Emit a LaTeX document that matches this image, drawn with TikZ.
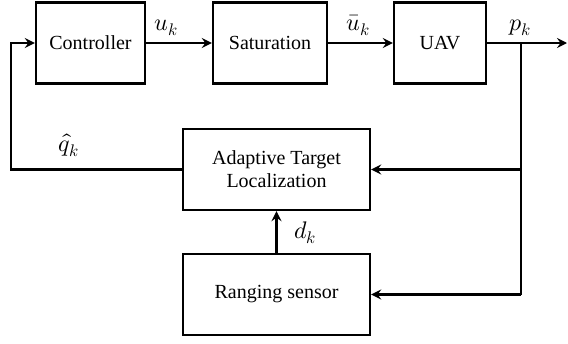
\documentclass[tikz,border=0pt]{standalone}
\usepackage{fontspec}
\usepackage{unicode-math}
\setmainfont{Liberation Serif}
\setmathfont{Latin Modern Math}
\usetikzlibrary{arrows.meta}
\begin{document}
\begin{tikzpicture}[x=1pt,y=-1pt,
  blk/.style={draw,line width=2.4pt,minimum height=81pt,inner sep=0pt,align=center,
    font=\fontsize{20}{23}\selectfont},
  conn/.style={line width=2.4pt},
  arr/.style={conn,-{Stealth[length=10pt,width=10pt,inset=3.5pt]}},
  lbl/.style={font=\fontsize{24}{28}\selectfont,inner sep=0pt,anchor=base}]
\useasboundingbox (0,0) rectangle (568,343);
\node[blk,minimum width=109pt] (ctrl) at (90.5,43) {Controller};
\node[blk,minimum width=114pt] (sat) at (270,43) {Saturation};
\node[blk,minimum width=92pt] (uav) at (440,43) {UAV};
\node[blk,minimum width=187pt] (atl) at (276.5,169.5) {Adaptive Target\\Localization};
\node[blk,minimum width=187pt] (rng) at (276.5,294.5) {Ranging sensor};
\coordinate (out) at (567,43);
\coordinate (br) at (521,43);
\coordinate (brA) at (521,169.5);
\coordinate (brR) at (521,294.5);
\coordinate (fb) at (11,169.5);
\draw[arr] (ctrl.east) -- (sat.west);
\draw[arr] (sat.east) -- (uav.west);
\draw[arr] (uav.east) -- (out);
\draw[conn] (br) -- (brR);
\draw[arr] (brA) -- (atl.east);
\draw[arr] (brR) -- (rng.east);
\draw[arr] (atl.west) -- (fb) |- (ctrl.west);
\draw[arr] (rng.north) -- (atl.south);
\node[lbl] (lu) at (166,30) {$u_k$};
\node[lbl] (lub) at (358,30) {$\bar{u}_k$};
\node[lbl] (lp) at (520,30) {$p_k$};
\node[lbl] (lq) at (69,151) {$\hat{q}_k$};
\node[lbl] (ld) at (305,238) {$d_k$};
\end{tikzpicture}
\end{document}
